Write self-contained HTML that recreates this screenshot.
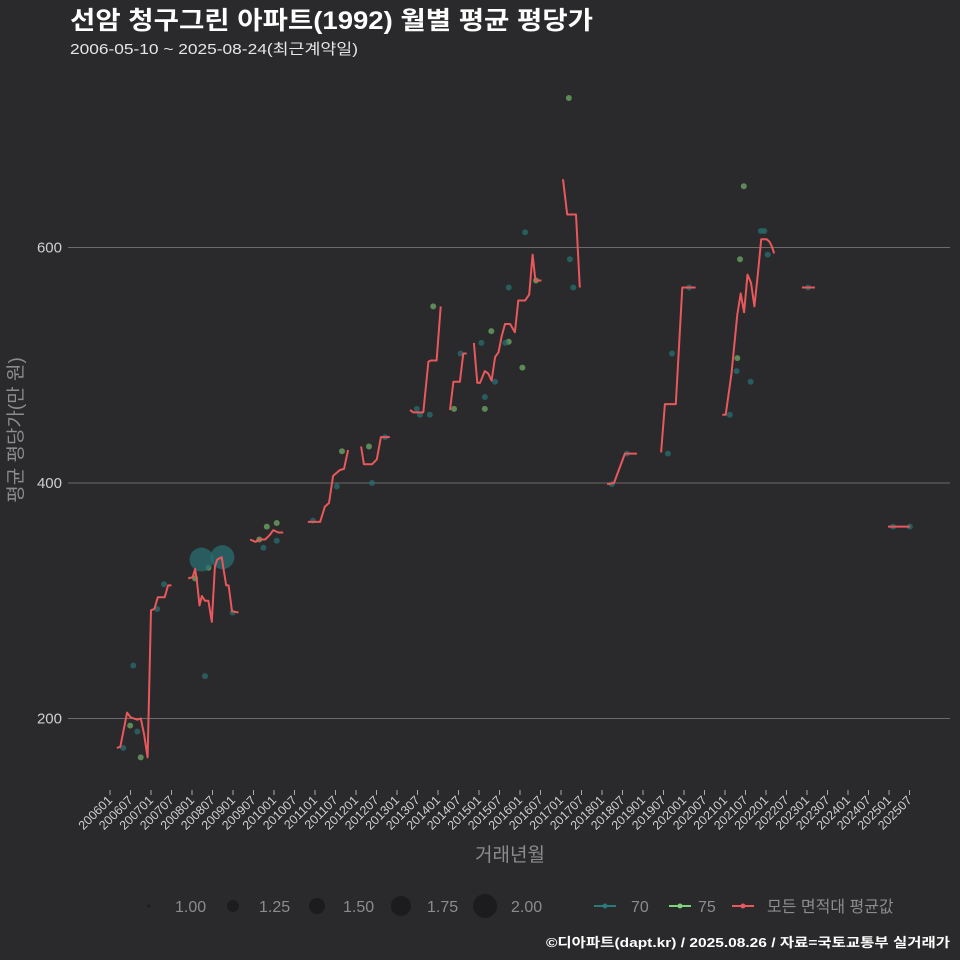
<!DOCTYPE html>
<html><head><meta charset="utf-8">
<style>
html,body{margin:0;padding:0;background:#2a292b;}
svg{display:block;font-family:"Liberation Sans","Noto Sans CJK KR",sans-serif;}
</style></head>
<body>
<svg id="chart" width="960" height="960" viewBox="0 0 960 960">
<rect width="960" height="960" fill="#2a292b"/>
<text x="70" y="29" fill="#ffffff" font-size="25" font-weight="bold" textLength="523" lengthAdjust="spacingAndGlyphs">선암 청구그린 아파트(1992) 월별 평균 평당가</text>
<text x="70" y="54" fill="#e6e6e6" font-size="15" textLength="288" lengthAdjust="spacingAndGlyphs">2006-05-10 ~ 2025-08-24(최근계약일)</text>
<g id="grid"></g>
<g id="yaxis"></g>
<g id="xaxis"></g>
<g id="points"></g>
<g id="lines"></g>
<text transform="translate(22,430) rotate(-90)" text-anchor="middle" fill="#8c8c8c" font-size="19">평균 평당가(만 원)</text>
<text x="510" y="861" text-anchor="middle" fill="#8c8c8c" font-size="19">거래년월</text>
<g id="legend"></g>
<text x="950" y="947" text-anchor="end" fill="#ffffff" font-size="13" font-weight="bold" textLength="404" lengthAdjust="spacingAndGlyphs">©디아파트(dapt.kr) / 2025.08.26 / 자료=국토교통부 실거래가</text>
</svg>
<script>
// x = months since 2006-01, y = 평당가 (만 원)
const yTicks = [200, 400, 600];
const xTickYears = [2006,2007,2008,2009,2010,2011,2012,2013,2014,2015,2016,2017,2018,2019,2020,2021,2022,2023,2024,2025];
// average line segments (gaps between)
const lineMonths = [
 [2,3,5,6,8,9,10,11,12,13,14,16,17,18],
 [22.9,24.2,24.9,25.4,26.2,26.9,27.8,28.8,29.8,30.7,31.4,32.7,33.4,34.0,34.7,35.7,37.6],
 [41.0,42.6,43.7,45.4,46.8,47.8,49.3,50.7],
 [57.9,61.5,62.9,64.1,65.3,67.3,68.5,69.7],
 [73.5,74.3,76.7,78.1,79.3,81.9],
 [87.8,88.8,91.7,93.2,93.9,95.6,96.8],
 [99.5,100.5,102.4,103.4,104.4],
 [106.5,107.5,108.3,109.7,110.7,111.7,112.7,113.7,114.6,115.6,117.1,118.5,119.5,121.5,122.7,123.7,124.5,126.3],
 [132.6,133.8,135.2,136.4,137.5],
 [145.5,147.5,150.7,154.2],
 [161.3,162.4,165.6,167.5,171.4],
 [179.2,180.2,181.9,183.6,184.6,185.6,186.6,187.6,188.6,189.6,190.6,192.2,193.0,193.7,194.4],
 [202.5,206.3],
 [227.7,234.1]
];
const lineValues = [
 [175,176,205,201,199,200,186,167,292,293,303,303,313,313],
 [319,320,327,318,296,304,300,300,282,329,335,337,324,313,313,291,290],
 [352,350,352,352,356,360,358,358],
 [367,367,380,383,406,411,412,428],
 [431,416,416,420,439,439],
 [462,460,460,503,504,504,550],
 [462,486,486,510,510],
 [519,485,485,495,493,487,507,511,524,535,535,528,555,555,560,594,572,572],
 [658,628,628,628,566],
 [399,400,425,425],
 [426,467,467,566,566],
 [458,458,493,543,561,545,577,570,550,577,607,607,605,601,595],
 [566,566],
 [363,363]
];
// scatter points
const ptMonths = [3.9,5.9,8.0,9.0,6.8,13.8,15.8,24.9,28.8,27.8,35.9,43.7,45.9,48.8,48.8,44.9,26.8,32.9,
 59.4,66.4,67.9,75.8,76.7,80.5,121.5,94.6,89.8,90.7,93.6,102.6,100.7,108.7,109.7,109.7,111.6,112.7,116.7,116.7,115.7,120.7,124.7,134.6,135.6,134.3,
 146.9,151.3,163.3,164.5,169.5,185.5,184.4,183.6,183.4,187.5,181.4,190.5,191.5,192.5,204.3,229.2,234.1];
const ptValues = [175,194,189,167,245,293,314,319,328,236,290,352,363,366,351,345,335,337,
 368,397,427,431,400,439,613,550,463,458,458,510,463,519,473,463,529,486,566,520,519,498,572,590,566,727,
 399,425,425,510,566,652,590,506,495,486,458,614,614,594,566,363,363];
const ptArea = ['70','75','70','75','70','70','70','75','75','70','70','75','75','75','70','70','70','70',
 '70','70','75','75','70','70','70','75','70','70','70','70','75','70','70','75','75','70','70','75','70','75','75','70','70','75',
 '70','70','70','70','70','75','75','75','70','70','70','70','70','70','70','70','70'];
const ptCount = [1,1,1,1,1,1,1,1,1,1,1,1,1,1,1,1,2,2,
 1,1,1,1,1,1,1,1,1,1,1,1,1,1,1,1,1,1,1,1,1,1,1,1,1,1,
 1,1,1,1,1,1,1,1,1,1,1,1,1,1,1,1,1];

const NS = 'http://www.w3.org/2000/svg';
const xScale = m => 110 + m * 20.5 / 6;
const yScale = v => 483 - (v - 400) * 1.1775;
const rScale = c => 3 + (c - 1) * 9;
function mk(tag, attrs, parent){const e=document.createElementNS(NS,tag);for(const k in attrs)e.setAttribute(k,attrs[k]);parent.appendChild(e);return e;}

const grid=document.getElementById('grid'), yax=document.getElementById('yaxis'), xax=document.getElementById('xaxis');
yTicks.forEach(v=>{
  const l=mk('line',{x1:68,x2:950,y1:yScale(v),y2:yScale(v),stroke:'#6b6b6b','stroke-width':1},grid);
  
  
  const t=mk('text',{x:62,y:yScale(v)+5,'text-anchor':'end',fill:'#cfcfcf','font-size':15},yax);
  t.textContent=v;
  
  
});
xTickYears.forEach((yr,i)=>{
  ['01','07'].forEach((mm,j)=>{
    const m=i*12+j*6, x=xScale(m);
    const tk=mk('line',{x1:x,x2:x,y1:790,y2:795,stroke:'#aaaaaa','stroke-width':1},xax);
    
    
    const t=mk('text',{transform:`translate(${x+3},801) rotate(-45)`,'text-anchor':'end',fill:'#cfcfcf','font-size':12.5},xax);
    t.textContent=yr+mm;
    
    
  });
});
const colors={'70':'rgba(40,110,112,0.75)','75':'rgba(110,170,100,0.75)'};
const pts=document.getElementById('points');
ptMonths.forEach((m,i)=>{
  const c=mk('circle',{cx:xScale(m),cy:yScale(ptValues[i]),r:rScale(ptCount[i]),fill:colors[ptArea[i]]},pts);
  
  
});
const lg=document.getElementById('lines');
lineMonths.forEach((ms,s)=>{
  const d=ms.map((m,i)=>`${i?'L':'M'}${xScale(m).toFixed(1)},${yScale(lineValues[s][i]).toFixed(1)}`).join('');
  const p=mk('path',{d:d,fill:'none',stroke:'#e8585c','stroke-width':2,'stroke-linejoin':'round'},lg);
  
  
});
// legend
const leg=document.getElementById('legend');
const sizeLabels=['1.00','1.25','1.50','1.75','2.00'];
const sizeR=[1.5,6,8,10,12];
sizeLabels.forEach((s,i)=>{
  const cx=149+i*84;
  const c=mk('circle',{cx:cx,cy:906,r:sizeR[i],fill:'#1c1b1d'},leg);
  
  
  const t=mk('text',{x:cx+26,y:912,fill:'#8c8c8c','font-size':16},leg);
  t.textContent=s;
  
  
});
const lgItems=[['70','#2a7a7c',594,631],['75','#7fd37a',669,698],['모든 면적대 평균값','#e8585c',732,767]];
lgItems.forEach(([lab,col,x0,tx])=>{
  const l=mk('line',{x1:x0,x2:x0+22,y1:906,y2:906,stroke:col,'stroke-width':2},leg);
  
  
  const c=mk('circle',{cx:x0+11,cy:906,r:2.5,fill:col},leg);
  
  
  const t=mk('text',{x:tx,y:912,fill:'#8c8c8c','font-size':16},leg);
  t.textContent=lab;
  
  
});
</script>
</body></html>
